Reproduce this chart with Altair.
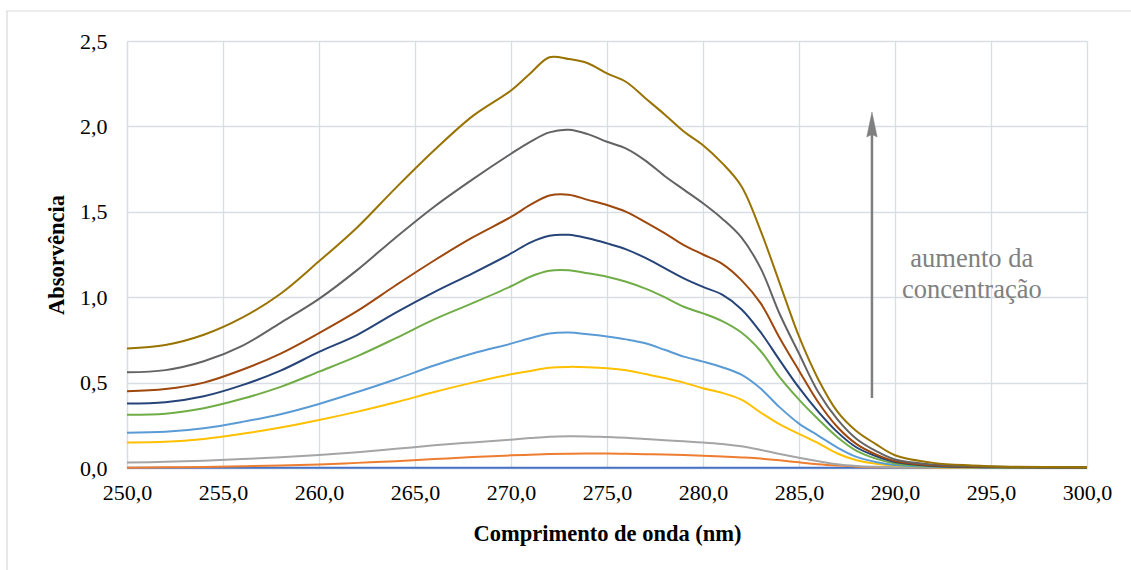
import altair as alt
import pandas as pd

# wavelength grid (nm)
wavelength = [250, 252, 254, 256, 258, 260, 262, 264, 266, 268, 270, 271, 272, 273, 274,
              275, 276, 277, 278, 279, 280, 281, 282, 283, 284, 285, 286, 287, 288, 289,
              290, 292, 294, 296, 300]

s1_blue = [0.002, 0.002, 0.002, 0.002, 0.002, 0.002, 0.002, 0.002, 0.002, 0.002, 0.002, 0.002,
           0.002, 0.002, 0.002, 0.002, 0.002, 0.002, 0.002, 0.002, 0.002, 0.002, 0.002, 0.002,
           0.002, 0.002, 0.002, 0.002, 0.002, 0.002, 0.002, 0.002, 0.002, 0.002, 0.002]
s2_orange = [0.002, 0.004, 0.006, 0.010, 0.014, 0.020, 0.030, 0.040, 0.052, 0.064, 0.074, 0.078,
             0.082, 0.084, 0.085, 0.085, 0.083, 0.081, 0.079, 0.076, 0.072, 0.068, 0.062, 0.055,
             0.045, 0.033, 0.022, 0.014, 0.008, 0.005, 0.004, 0.002, 0.001, 0.001, 0.001]
s3_gray = [0.032, 0.036, 0.043, 0.052, 0.063, 0.076, 0.092, 0.112, 0.133, 0.150, 0.166, 0.175,
           0.183, 0.186, 0.185, 0.181, 0.177, 0.170, 0.162, 0.156, 0.150, 0.141, 0.127, 0.106,
           0.082, 0.060, 0.040, 0.022, 0.012, 0.007, 0.004, 0.002, 0.001, 0.001, 0.001]
s4_yellow = [0.150, 0.153, 0.170, 0.200, 0.237, 0.281, 0.330, 0.385, 0.445, 0.500, 0.549, 0.568,
             0.587, 0.592, 0.590, 0.584, 0.572, 0.550, 0.527, 0.500, 0.467, 0.440, 0.400, 0.325,
             0.255, 0.200, 0.145, 0.085, 0.045, 0.025, 0.014, 0.005, 0.003, 0.002, 0.002]
s5_lightblue = [0.207, 0.212, 0.233, 0.270, 0.315, 0.375, 0.445, 0.520, 0.600, 0.670, 0.728, 0.760,
                0.787, 0.793, 0.783, 0.770, 0.753, 0.730, 0.692, 0.652, 0.623, 0.590, 0.546, 0.465,
                0.355, 0.260, 0.190, 0.120, 0.065, 0.035, 0.018, 0.007, 0.004, 0.003, 0.002]
s6_green = [0.312, 0.318, 0.350, 0.405, 0.475, 0.564, 0.655, 0.760, 0.870, 0.965, 1.064, 1.120,
            1.155, 1.158, 1.140, 1.120, 1.090, 1.050, 1.000, 0.944, 0.905, 0.860, 0.793, 0.685,
            0.530, 0.400, 0.285, 0.180, 0.100, 0.055, 0.027, 0.010, 0.005, 0.003, 0.002]
s7_darkblue = [0.377, 0.385, 0.420, 0.485, 0.570, 0.680, 0.780, 0.910, 1.030, 1.140, 1.256, 1.320,
               1.360, 1.365, 1.345, 1.315, 1.280, 1.230, 1.170, 1.110, 1.060, 1.015, 0.930, 0.795,
               0.630, 0.470, 0.330, 0.210, 0.120, 0.070, 0.035, 0.012, 0.006, 0.004, 0.003]
s8_brown = [0.449, 0.462, 0.500, 0.575, 0.670, 0.790, 0.920, 1.070, 1.215, 1.350, 1.470, 1.540,
            1.595, 1.600, 1.570, 1.540, 1.500, 1.440, 1.375, 1.305, 1.250, 1.195, 1.100, 0.965,
            0.760, 0.570, 0.385, 0.240, 0.140, 0.080, 0.041, 0.015, 0.008, 0.005, 0.003]
s9_darkgray = [0.560, 0.573, 0.625, 0.715, 0.850, 0.990, 1.160, 1.350, 1.530, 1.690, 1.840, 1.910,
               1.965, 1.980, 1.955, 1.910, 1.870, 1.800, 1.710, 1.630, 1.550, 1.460, 1.350, 1.170,
               0.900, 0.670, 0.445, 0.285, 0.170, 0.100, 0.050, 0.020, 0.010, 0.006, 0.004]
s10_olive = [0.700, 0.720, 0.780, 0.880, 1.020, 1.210, 1.410, 1.640, 1.860, 2.060, 2.210, 2.310,
             2.405, 2.395, 2.370, 2.310, 2.260, 2.165, 2.070, 1.970, 1.890, 1.785, 1.650, 1.390,
             1.080, 0.770, 0.520, 0.330, 0.215, 0.140, 0.075, 0.030, 0.015, 0.008, 0.004]

series_names = ["s1", "s2", "s3", "s4", "s5", "s6", "s7", "s8", "s9", "s10"]
series_values = [s1_blue, s2_orange, s3_gray, s4_yellow, s5_lightblue, s6_green,
                 s7_darkblue, s8_brown, s9_darkgray, s10_olive]
series_colors = ["#4472C4", "#ED7D31", "#A5A5A5", "#FFC000", "#5B9BD5", "#70AD47",
                 "#264478", "#9E480E", "#636363", "#997300"]

x_ticks = [250, 255, 260, 265, 270, 275, 280, 285, 290, 295, 300]
y_ticks = [0.0, 0.5, 1.0, 1.5, 2.0, 2.5]

annotation_lines = ["aumento da", "concentração"]

FONT = "Liberation Serif"
GRID = "#D9DEE6"

rows = []
for name, vals in zip(series_names, series_values):
    for w, v in zip(wavelength, vals):
        rows.append({"wl": w, "abs": v, "series": name})
df = pd.DataFrame(rows)

label_expr = "replace(format(datum.value, '.1f'), '.', ',')"

x_enc = alt.X("wl:Q",
              scale=alt.Scale(domain=[250, 300], nice=False, zero=False),
              axis=alt.Axis(values=x_ticks, labelExpr=label_expr, title="Comprimento de onda (nm)",
                            grid=True, gridColor=GRID, gridWidth=1.3, ticks=False,
                            domainColor=GRID, domainWidth=1.3,
                            labelFont=FONT, labelFontSize=22, labelColor="#000000",
                            labelPadding=14, labelFlush=False, labelOverlap=False,
                            titleFont=FONT, titleFontSize=22.5, titleFontWeight="bold",
                            titleColor="#000000", titleY=72, titleBaseline="alphabetic"))
y_enc = alt.Y("abs:Q",
              scale=alt.Scale(domain=[0, 2.5], nice=False),
              axis=alt.Axis(values=y_ticks, labelExpr=label_expr, title="Absorvência",
                            grid=True, gridColor=GRID, gridWidth=1.3, ticks=False,
                            domainColor=GRID, domainWidth=1.3,
                            labelFont=FONT, labelFontSize=22, labelColor="#000000",
                            labelPadding=20, labelOverlap=False,
                            titleFont=FONT, titleFontSize=22.5, titleFontWeight="bold",
                            titleColor="#000000", titleX=-64, titleY=213.5,
                            titleBaseline="alphabetic"))

base = alt.Chart(df).encode(x=x_enc, y=y_enc)

layers = []
border = alt.Chart(pd.DataFrame({"a": [0]})).mark_rect(
    fillOpacity=0, stroke="#D9D9D9", strokeWidth=1.2).encode(
    x=alt.value(-120), x2=alt.value(1020), y=alt.value(-30), y2=alt.value(600))
layers.append(border)

for name, col in zip(series_names, series_colors):
    layers.append(base.transform_filter(alt.datum.series == name).mark_line(
        color=col, strokeWidth=2, interpolate="catmull-rom"))

arrow_df = pd.DataFrame({"wl": [288.8], "y0": [0.41], "y1": [1.99], "head": [2.008]})
arrow_line = alt.Chart(arrow_df).mark_rule(color="#7F7F7F", strokeWidth=2.5).encode(
    x="wl:Q", y="y0:Q", y2="y1:Q")
arrow_head = alt.Chart(arrow_df).mark_point(
    shape="M0,-1 L0.4,0.92 L0,0.72 L-0.4,0.92 Z", filled=True, fill="#7F7F7F",
    stroke="#7F7F7F", strokeWidth=0.5, size=676, opacity=1).encode(
    x="wl:Q", y="head:Q")
layers += [arrow_line, arrow_head]

text_df = pd.DataFrame({"wl": [294.0], "y": [1.179], "t": [annotation_lines]})
text = alt.Chart(text_df).mark_text(
    font=FONT, fontSize=26.5, color="#808080", align="center", baseline="alphabetic",
    lineHeight=31).encode(x="wl:Q", y="y:Q", text="t")
layers.append(text)

chart = alt.layer(*layers).properties(
    width=960, height=427,
    autosize=alt.AutoSizeParams(type="none"),
    padding={"left": 127, "top": 41, "right": 44, "bottom": 102},
    background="white",
).configure_view(stroke=None)

chart.save("out.html", embed_options={"renderer": "svg", "actions": False})
